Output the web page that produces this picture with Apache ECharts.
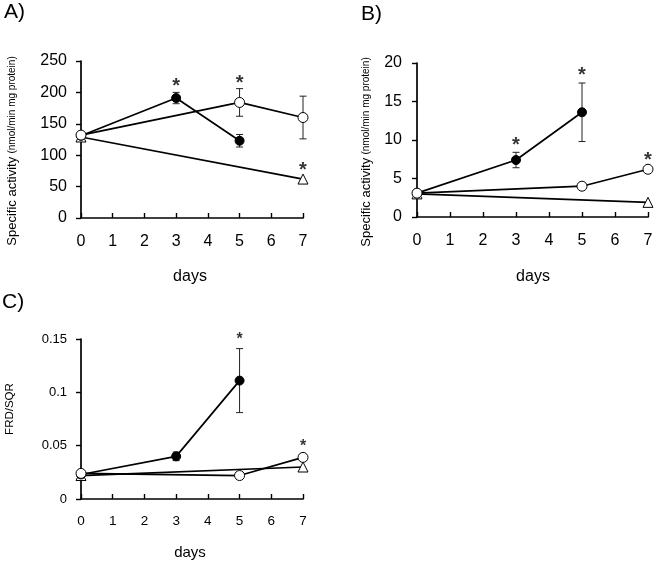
<!DOCTYPE html>
<html>
<head>
<meta charset="utf-8">
<script src="https://cdn.jsdelivr.net/npm/echarts@6/dist/echarts.min.js"></script>
<style>
html,body{margin:0;padding:0;background:#fff;}
#c{width:656px;height:565px;}
</style>
</head>
<body>
<div id="c"></div>
<script>
// ---- data ----
var xTicks = [0, 1, 2, 3, 4, 5, 6, 7];

// Panel A: Specific activity
var A_filled = [[0, 131], [3, 191], [5, 123]];
var A_filledErr = [0, 9, 10];
var A_open = [[0, 132], [5, 184], [7, 160]];
var A_openErr = [0, 22, 34];
var A_tri = [[0, 129], [7, 62]];
var A_stars = [[3, 216], [5, 221], [7, 82]];

// Panel B: Specific activity
var B_filled = [[0, 3.1], [3, 7.4], [5, 13.6]];
var B_filledErr = [0, 1.0, 3.8];
var B_open = [[0, 3.1], [5, 4.0], [7, 6.2]];
var B_openErr = [0, 0, 0];
var B_tri = [[0, 3.0], [7, 1.9]];
var B_stars = [[3, 9.8], [5, 18.9], [7, 7.8]];

// Panel C: FRD/SQR
var C_filled = [[0, 0.023], [3, 0.040], [5, 0.111]];
var C_filledErr = [0, 0.004, 0.030];
var C_open = [[0, 0.024], [5, 0.022], [7, 0.039]];
var C_openErr = [0, 0, 0];
var C_tri = [[0, 0.022], [7, 0.030]];
var C_stars = [[5, 0.153], [7, 0.0525]];

var FONT = '"Liberation Sans", Arial, sans-serif';

function errData(pts, err) {
  var out = [];
  for (var i = 0; i < pts.length; i++) {
    if (err[i] > 0) out.push([pts[i][0], pts[i][1] - err[i], pts[i][1] + err[i]]);
  }
  return out;
}

function errSeries(idx, pts, err) {
  return {
    type: 'custom', xAxisIndex: idx, yAxisIndex: idx, z: 1, clip: false,
    data: errData(pts, err),
    renderItem: function (params, api) {
      var x = api.value(0);
      var lo = api.coord([x, api.value(1)]);
      var hi = api.coord([x, api.value(2)]);
      var w = 3.5;
      var st = { stroke: '#222', lineWidth: 1 };
      return { type: 'group', children: [
        { type: 'line', shape: { x1: lo[0], y1: lo[1], x2: hi[0], y2: hi[1] }, style: st },
        { type: 'line', shape: { x1: lo[0] - w, y1: lo[1], x2: lo[0] + w, y2: lo[1] }, style: st },
        { type: 'line', shape: { x1: hi[0] - w, y1: hi[1], x2: hi[0] + w, y2: hi[1] }, style: st }
      ]};
    }
  };
}

function panelSeries(idx, filled, fErr, open, oErr, tri, stars, starSize) {
  return [
    errSeries(idx, filled, fErr),
    errSeries(idx, open, oErr),
    { type: 'line', xAxisIndex: idx, yAxisIndex: idx, data: tri, z: 2,
      symbol: 'triangle', symbolSize: 10, showAllSymbol: true,
      lineStyle: { color: '#000', width: 1.7 },
      itemStyle: { color: '#fff', borderColor: '#000', borderWidth: 1 } },
    { type: 'line', xAxisIndex: idx, yAxisIndex: idx, data: filled, z: 3,
      symbol: 'circle', symbolSize: 9,
      lineStyle: { color: '#000', width: 1.7 },
      itemStyle: { color: '#000', borderColor: '#000', borderWidth: 1 } },
    { type: 'line', xAxisIndex: idx, yAxisIndex: idx, data: open, z: 4,
      symbol: 'circle', symbolSize: 10,
      lineStyle: { color: '#000', width: 1.7 },
      itemStyle: { color: '#fff', borderColor: '#000', borderWidth: 1 } },
    { type: 'scatter', xAxisIndex: idx, yAxisIndex: idx, data: stars, z: 5, clip: false,
      symbolSize: 0, silent: true,
      label: { show: true, position: 'inside', formatter: '*', color: '#000',
        fontSize: starSize, fontWeight: 'bold', fontFamily: FONT, offset: [0, 4] } }
  ];
}

function xAx(idx, fs, margin) {
  return {
    gridIndex: idx, type: 'value', min: 0, max: 7, interval: 1,
    axisLine: { lineStyle: { color: '#000', width: 1.7 } },
    axisTick: { inside: true, length: 5, lineStyle: { color: '#000', width: 1.4 } },
    axisLabel: { color: '#000', fontSize: fs, fontFamily: FONT, margin: margin,
      formatter: function (v) { return xTicks.indexOf(v) >= 0 ? String(v) : ''; } },
    splitLine: { show: false }
  };
}

function yAx(idx, max, interval, fs, margin, fmt) {
  return {
    gridIndex: idx, type: 'value', min: 0, max: max, interval: interval,
    axisLine: { show: true, lineStyle: { color: '#000', width: 1.7 } },
    axisTick: { show: true, inside: false, length: 5, lineStyle: { color: '#000', width: 1.4 } },
    axisLabel: { color: '#000', fontSize: fs, fontFamily: FONT, margin: margin, formatter: fmt },
    splitLine: { show: false }
  };
}

var chart = echarts.init(document.getElementById('c'), null, { renderer: 'canvas' });

var yName = '{a|Specific activity} {b|(nmol/min mg protein)}';
var yRich = { a: { fontSize: 13, fontFamily: FONT, fill: '#000' }, b: { fontSize: 10, fontFamily: FONT, fill: '#000' } };

var option = {
  animation: false,
  backgroundColor: '#fff',
  grid: [
    { left: 81, top: 61, width: 222, height: 157 },
    { left: 417, top: 63, width: 231, height: 154 },
    { left: 81, top: 339, width: 222, height: 160 }
  ],
  xAxis: [xAx(0, 16, 16), xAx(1, 16, 16), xAx(2, 13.5, 15)],
  yAxis: [
    yAx(0, 250, 50, 16, 14, null),
    yAx(1, 20, 5, 16, 15, null),
    yAx(2, 0.15, 0.05, 13, 14, function (v) { return v === 0 ? '0' : String(+v.toFixed(2)); })
  ],
  graphic: [
    { type: 'text', left: 4, top: 2, style: { text: 'A)', fontSize: 21, fontFamily: FONT, fill: '#000' } },
    { type: 'text', left: 361, top: 4, style: { text: 'B)', fontSize: 21, fontFamily: FONT, fill: '#000' } },
    { type: 'text', left: 2, top: 292, style: { text: 'C)', fontSize: 21, fontFamily: FONT, fill: '#000' } },
    { type: 'text', x: 12, y: 151, rotation: Math.PI / 2,
      style: { text: yName, align: 'center', verticalAlign: 'middle', fill: '#000', fontFamily: FONT, rich: yRich } },
    { type: 'text', x: 366, y: 152, rotation: Math.PI / 2,
      style: { text: yName, align: 'center', verticalAlign: 'middle', fill: '#000', fontFamily: FONT, rich: yRich } },
    { type: 'text', x: 10, y: 409, rotation: Math.PI / 2,
      style: { text: 'FRD/SQR', align: 'center', verticalAlign: 'middle', fontSize: 11.5, fontFamily: FONT, fill: '#000' } },
    { type: 'text', x: 190, y: 277, style: { text: 'days', align: 'center', verticalAlign: 'middle', fontSize: 16, fontFamily: FONT, fill: '#000' } },
    { type: 'text', x: 533, y: 277, style: { text: 'days', align: 'center', verticalAlign: 'middle', fontSize: 16, fontFamily: FONT, fill: '#000' } },
    { type: 'text', x: 190, y: 553, style: { text: 'days', align: 'center', verticalAlign: 'middle', fontSize: 15, fontFamily: FONT, fill: '#000' } }
  ],
  series: [].concat(
    panelSeries(0, A_filled, A_filledErr, A_open, A_openErr, A_tri, A_stars, 20),
    panelSeries(1, B_filled, B_filledErr, B_open, B_openErr, B_tri, B_stars, 20),
    panelSeries(2, C_filled, C_filledErr, C_open, C_openErr, C_tri, C_stars, 16)
  )
};
chart.setOption(option);
</script>
</body>
</html>
